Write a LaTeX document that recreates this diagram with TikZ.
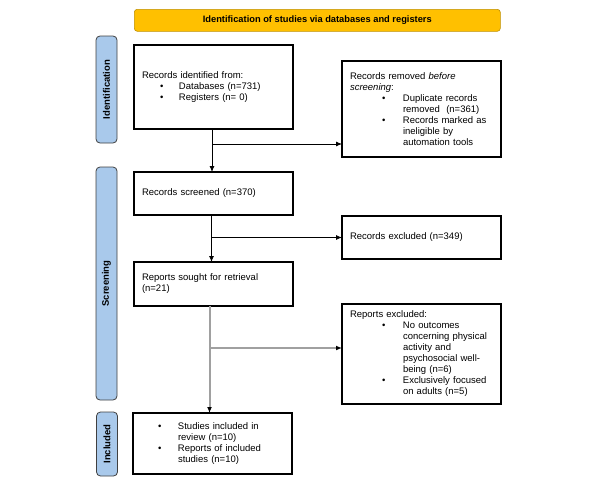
\documentclass[tikz,border=0pt]{standalone}
\usepackage{fontspec}
\setmainfont{Liberation Sans}
\usetikzlibrary{arrows.meta}

\definecolor{hdr}{HTML}{FFC000}
\definecolor{side}{HTML}{A9C9EB}
\definecolor{conn}{HTML}{A0A0A0}

\begin{document}
\begin{tikzpicture}[x=1pt,y=-1pt,
  box/.style={draw, line width=1.3pt, anchor=north west, outer sep=0pt,
    inner xsep=8pt, inner ysep=0pt, minimum width=159pt, text width=143pt,
    align=left, font=\fontsize{9.5}{11}\selectfont},
  band/.style={draw=black!75, line width=.8pt, fill=side, rounded corners=4pt,
    rotate=90, minimum height=21pt, inner sep=0pt, font=\fontsize{9.5}{11}\bfseries},
  arr/.style={-{Latex[length=6pt,width=5pt]}, line width=.8pt},
  garr/.style={-{Latex[length=6pt,width=5pt,color=black]}, draw=conn, line width=2pt}]
\def\bul#1#2{\hspace*{#1pt}\makebox[#2pt][l]{\textbullet}}

\useasboundingbox (0,0) rectangle (600,479);

%%%%%%%%%%%%%-------------titulo y bandas
\node[draw=hdr!75!black, line width=.6pt, fill=hdr, rounded corners=3pt, anchor=north west,
  minimum width=366pt, minimum height=22pt, font=\fontsize{9.3}{11}\bfseries] (hd) at (134,9)
  {Identification of studies via databases and registers};

\node[band, minimum width=107pt] (bid) at (106.5,89.5) {Identification};
\node[band, minimum width=233pt] (bsc) at (106.5,283.5) {Screening};
\node[band, minimum width=64pt] (bin) at (107,444) {Included};

%%%%%%%%%%%%%-------------cajas
\node[box, minimum height=84pt] (rid) at (134,45)
  {Records identified from:\\
   \bul{18}{19}Databases (n=731)\\
   \bul{18}{19}Registers (n= 0)};
\node[box, minimum height=96pt] (rem) at (342,61)
  {Records removed \textit{before}\\
   \textit{screening}:\\
   \bul{32}{21}Duplicate records\\
   \hspace*{53pt}removed\ \ (n=361)\\
   \bul{32}{21}Records marked as\\
   \hspace*{53pt}ineligible by\\
   \hspace*{53pt}automation tools};

\node[box, minimum height=43pt] (scr) at (134,172) {Records screened (n=370)};
\node[box, minimum height=43pt] (exc) at (342,216) {Records excluded (n=349)};

\node[box, minimum height=44pt] (rsr) at (134,262) {Reports sought for retrieval\\(n=21)};
\node[box, minimum height=100pt] (rex) at (342,304)
  {Reports excluded:\\
   \bul{32}{21}No outcomes\\
   \hspace*{53pt}concerning physical\\
   \hspace*{53pt}activity and\\
   \hspace*{53pt}psychosocial well-\\
   \hspace*{53pt}being (n=6)\\
   \bul{32}{21}Exclusively focused\\
   \hspace*{53pt}on adults (n=5)};

\node[box, minimum height=61pt] (inc) at (133,413)
  {\bul{17}{20}Studies included in\\
   \hspace*{37pt}review (n=10)\\
   \bul{17}{20}Reports of included\\
   \hspace*{37pt}studies (n=10)};

%%%%%%%%%%%%%-------------flechas
\path (rid.south) ++(-1.5,15) coordinate (j1);
\draw[arr] (j1 |- rid.south) -- (j1 |- scr.north);
\draw[arr] (j1) -- (j1 -| rem.west);

\path (scr.south) ++(-2,0) coordinate (j2);
\draw[arr] (j2) -- (j2 |- rsr.north);
\draw[arr] (j2 |- exc.west) -- (exc.west);

\path (rsr.south) ++(-4,42) coordinate (j3);
\draw[garr] (j3 |- rsr.south) -- (j3 |- inc.north);
\draw[garr] (j3) -- (j3 -| rex.west);

\end{tikzpicture}
\end{document}
